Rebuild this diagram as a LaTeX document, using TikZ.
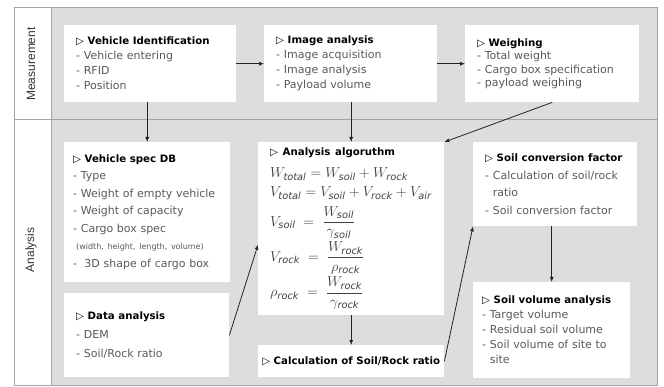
\documentclass[tikz,border=0pt]{standalone}
\usepackage{amsmath}
\usepackage{fontspec}
\setmainfont{DejaVu Sans}
\newfontfamily\sidefont{Liberation Sans}
\usetikzlibrary{arrows.meta,calc}
\definecolor{panelgray}{RGB}{221,221,221}
\definecolor{framegray}{RGB}{165,165,165}
\definecolor{itemgray}{RGB}{90,90,90}
\definecolor{linkgray}{RGB}{35,35,35}
\newcommand{\boxtitle}[1]{{\color{black}\fontsize{10.2}{15}\selectfont\bfseries\char"25B7\ #1}}
\tikzset{
  panel/.style={fill=white, anchor=north west, inner xsep=12pt, inner ysep=2pt,
    align=left, text=itemgray, font=\fontsize{11}{15}\selectfont},
  rowlabel/.style={rotate=90, text=black!80, font=\sidefont\fontsize{12}{14}\selectfont},
  link/.style={draw=linkgray, line width=0.8pt, -{Latex[length=5pt,width=4pt]}},
}
\begin{document}
\begin{tikzpicture}[x=1pt, y=-1pt]
  \useasboundingbox (0,0) rectangle (664,387);
  % frame
  \fill[panelgray] (51,8) rectangle (657,385);
  \draw[framegray, line width=1pt] (14,8) rectangle (657,385);
  \draw[framegray, line width=1pt] (51,8) -- (51,385);
  \draw[framegray, line width=1pt] (14,120) -- (657,120);
  \node[rowlabel] (meas) at (31,64) {Measurement};
  \node[rowlabel] (anal) at (31,250) {Analysis};

  % measurement row
  \node[panel, text width=148pt, minimum height=77pt] (vid) at (64,25)
    {\boxtitle{Vehicle Identification}\\- Vehicle entering\\- RFID\\- Position};
  \node[panel, text width=149pt, minimum height=77pt] (img) at (264,25)
    {\boxtitle{Image analysis}\\- Image acquisition\\- Image analysis\\- Payload volume};
  \node[panel, text width=150pt, minimum height=77pt, font=\fontsize{11}{13.3}\selectfont] (wgh) at (465,25)
    {\boxtitle{Weighing}\\- Total weight\\- Cargo box specification\\- payload weighing};

  % analysis row
  \node[panel, inner xsep=9pt, text width=148pt, minimum height=140pt, font=\fontsize{11}{17.5}\selectfont] (spec) at (64,142)
    {\boxtitle{Vehicle spec DB}\\- Type\\- Weight of empty vehicle\\- Weight of capacity\\- Cargo box spec\\
     \hspace*{3pt}{\fontsize{8}{17.5}\selectfont(width, height, length, volume)}\\- \ 3D shape of cargo box};
  \node[panel, text width=141pt, minimum height=84pt, font=\fontsize{11}{19}\selectfont] (data) at (64,293)
    {\boxtitle{Data analysis}\\- DEM\\- Soil/Rock ratio};
  \node[panel, text width=162pt, minimum height=173pt, text=black!75, font=\fontsize{14}{18}\selectfont] (alg) at (258,142)
    {\boxtitle{Analysis algoruthm}\\[4pt]
     $W_{\mathit{total}} = W_{\mathit{soil}} + W_{\mathit{rock}}$\\[1pt]
     $V_{\mathit{total}} = V_{\mathit{soil}} + V_{\mathit{rock}} + V_{\mathit{air}}$\\[6pt]
     $V_{\mathit{soil}} \;=\; \dfrac{W_{\mathit{soil}}}{\gamma_{\mathit{soil}}}$\\[2pt]
     $V_{\mathit{rock}} \;=\; \dfrac{W_{\mathit{rock}}}{\rho_{\mathit{rock}}}$\\[2pt]
     $\rho_{\mathit{rock}} \;=\; \dfrac{W_{\mathit{rock}}}{\gamma_{\mathit{rock}}}$};
  \node[fill=white, anchor=north west, minimum width=186pt, minimum height=32pt, align=center] (calc) at (258,345)
    {\boxtitle{Calculation of Soil/Rock ratio}};
  \node[panel, text width=140pt, minimum height=84pt, font=\fontsize{11}{17.5}\selectfont] (conv) at (473,142)
    {\boxtitle{Soil conversion factor}\\- Calculation of soil/rock\\\phantom{- }ratio\\- Soil conversion factor};
  \node[panel, inner xsep=9pt, text width=139pt, minimum height=96pt] (vol) at (473,282)
    {\boxtitle{Soil volume analysis}\\- Target volume\\- Residual soil volume\\- Soil volume of site to\\\phantom{- }site};

  % links
  \draw[link] (vid.east) -- (img.west);
  \draw[link] (img.east) -- (wgh.west);
  \draw[link] (vid.south -| spec.north) -- (spec.north);
  \draw[link] (img.south -| alg.north) -- (alg.north);
  \draw[link] (wgh.south) -- (alg.north east);
  \draw[link] (data.east) -- ([yshift=-16pt]alg.west);
  \draw[link] (alg.south) -- (calc.north);
  \draw[link] (calc.east) -- (conv.south west);
  \draw[link] (conv.south -| vol.north) -- (vol.north);
\end{tikzpicture}
\end{document}
